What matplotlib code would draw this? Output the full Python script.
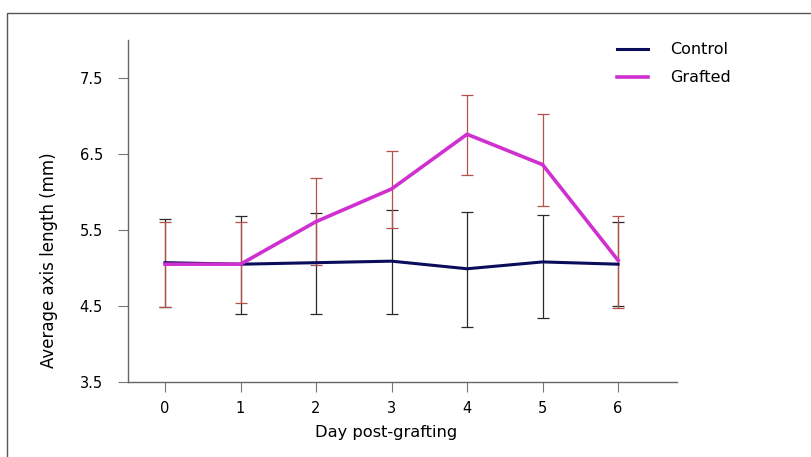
import matplotlib
matplotlib.use("Agg")
import matplotlib.pyplot as plt
from matplotlib.patches import Rectangle
import numpy as np

days = [0, 1, 2, 3, 4, 5, 6]
control = [5.07, 5.05, 5.07, 5.09, 4.99, 5.08, 5.05]
control_low = [4.49, 4.39, 4.40, 4.40, 4.23, 4.34, 4.50]
control_high = [5.65, 5.69, 5.73, 5.76, 5.74, 5.70, 5.60]
grafted = [5.05, 5.05, 5.61, 6.04, 6.76, 6.36, 5.10]
grafted_low = [4.49, 4.54, 5.04, 5.52, 6.22, 5.81, 4.48]
grafted_high = [5.60, 5.61, 6.18, 6.54, 7.27, 7.02, 5.69]
yticks = [3.5, 4.5, 5.5, 6.5, 7.5]

plt.rcParams['font.family'] = ['DejaVu Sans']

W, H = 811, 457
fig = plt.figure(figsize=(W/100, H/100), dpi=100)
ax = fig.add_axes([128/W, 1-382/H, (677-128)/W, (382-40)/H])

c = np.array(control)
g = np.array(grafted)
ax.errorbar(days, c, yerr=[c - np.array(control_low), np.array(control_high) - c],
            fmt='none', ecolor='#2a2a2a', elinewidth=0.9, capsize=4, capthick=0.9, zorder=2)
ax.errorbar(days, g, yerr=[g - np.array(grafted_low), np.array(grafted_high) - g],
            fmt='none', ecolor='#b5504a', elinewidth=0.9, capsize=4, capthick=0.9, zorder=2)
ax.plot(days, control, color='#0c0c5c', lw=2.2, label='Control', zorder=3)
ax.plot(days, grafted, color='#d030d0', lw=2.6, label='Grafted', zorder=4)

ax.set_xlim(-0.49, 6.78)
ax.set_ylim(3.5, 8.0)
ax.set_yticks(yticks)
ax.set_yticklabels([f"{v:.1f}" for v in yticks])
ax.set_xticks(days)
for s in ['top', 'right']:
    ax.spines[s].set_visible(False)
for s in ['left', 'bottom']:
    ax.spines[s].set_color('#666666')
    ax.spines[s].set_linewidth(1.0)
ax.tick_params(axis='both', direction='out', length=7, color='#777777', labelsize=10.5)
ax.tick_params(axis='x', pad=7)
ax.tick_params(axis='y', pad=11)

ax.set_xlabel('Day post-grafting', fontsize=11.7)
ax.set_ylabel('Average axis length (mm)', fontsize=12)
ax.xaxis.label.set_va('center')
ax.yaxis.label.set_va('center')
ax.xaxis.set_label_coords((386-128)/549, (382-432)/342)
ax.yaxis.set_label_coords((49-128)/549, (382-260)/342)

leg = ax.legend(loc='upper left', bbox_to_anchor=(611/W, 1-36/H), bbox_transform=fig.transFigure,
                frameon=False, fontsize=11.5, handlelength=1.9, handletextpad=1.4, labelspacing=0.8,
                borderaxespad=0, borderpad=0.4)

fig.patches.append(Rectangle((7/W, -0.02), 1.1, 1-13/H+0.02, transform=fig.transFigure,
                             fill=False, edgecolor='#555555', lw=1.0))

fig.savefig('out.png', dpi=100)
